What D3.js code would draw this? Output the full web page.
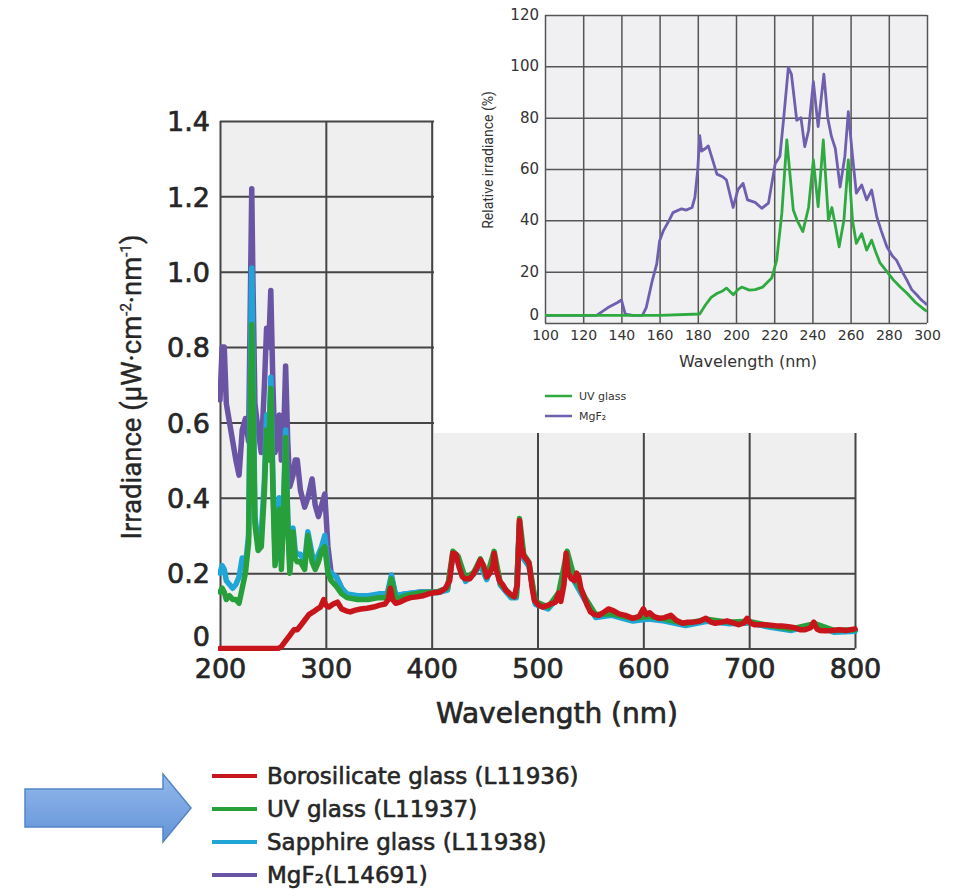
<!DOCTYPE html>
<html><head><meta charset="utf-8">
<script src="https://cdn.jsdelivr.net/npm/d3@7"></script>
<style>body{margin:0;background:#fff;} svg{display:block;}</style>
</head><body><svg id="c" width="961" height="889"></svg>
<script>
// ---------------- DATA ----------------
const mainXTicks = [200, 300, 400, 500, 600, 700, 800];
const mainYTicks = [0, 0.2, 0.4, 0.6, 0.8, 1.0, 1.2, 1.4];
const mainYTickLabels = ["0", "0.2", "0.4", "0.6", "0.8", "1.0", "1.2", "1.4"];

// Borosilicate glass (red)
const boroNm = [
  200, 230, 255, 258, 262, 266, 270, 273, 276, 280, 284, 288, 292, 295, 298, 300,
  303, 307, 311, 315, 319, 323, 328, 333, 339, 345, 351, 356, 359, 361, 363, 366, 370, 375, 380, 386, 392, 397,
  402, 408, 413, 417, 420, 423, 426, 429, 432, 436, 440, 443, 446, 449, 452, 455, 458, 459, 461, 464, 467, 470, 474, 478,
  481, 483, 485, 487, 490, 492, 495, 497, 501, 505, 510, 514, 517, 520, 522, 525, 527, 529, 532, 535, 537, 539, 541, 544, 547,
  550, 554, 558, 563, 567, 572, 577, 583, 590, 596, 600, 603, 606, 610, 615, 620, 626, 631, 637, 642, 647, 653, 659, 664, 668,
  674, 679, 685, 690, 695, 698, 701, 705, 710, 715, 720, 726, 731, 737, 743, 748, 753, 758, 761, 764, 767, 772, 778, 785, 792, 800];
const boroVal = [
  0, 0, 0, 0.005, 0.02, 0.035, 0.05, 0.05, 0.06, 0.075, 0.09, 0.097, 0.105, 0.11, 0.13, 0.115,
  0.11, 0.118, 0.123, 0.105, 0.10, 0.097, 0.102, 0.105, 0.107, 0.11, 0.115, 0.118, 0.13, 0.16, 0.13, 0.12, 0.123, 0.13, 0.135, 0.137, 0.14, 0.145,
  0.148, 0.15, 0.16, 0.18, 0.253, 0.25, 0.215, 0.19, 0.185, 0.185, 0.20, 0.215, 0.235, 0.22, 0.19, 0.20, 0.22, 0.253, 0.21, 0.18, 0.17, 0.155, 0.145, 0.137,
  0.17, 0.34, 0.27, 0.245, 0.235, 0.226, 0.16, 0.128, 0.115, 0.11, 0.115, 0.12, 0.123, 0.147, 0.125, 0.17, 0.253, 0.20, 0.185, 0.18, 0.20, 0.19, 0.16, 0.137, 0.115,
  0.097, 0.09, 0.088, 0.097, 0.105, 0.10, 0.092, 0.088, 0.08, 0.085, 0.105, 0.09, 0.095, 0.085, 0.08, 0.082, 0.088, 0.075, 0.067, 0.07, 0.07, 0.072, 0.08, 0.07, 0.067,
  0.07, 0.073, 0.068, 0.063, 0.068, 0.08, 0.068, 0.063, 0.063, 0.063, 0.062, 0.06, 0.06, 0.058, 0.055, 0.05, 0.05, 0.055, 0.07, 0.052, 0.048, 0.047, 0.048, 0.05, 0.048, 0.052];

// shared wavelength grid for UV glass, sapphire, MgF2
const uvNm = [
  200, 202, 204, 206, 209, 212, 215, 218, 221, 224, 227,
  229, 230, 231, 233, 236, 239,
  242, 244, 246, 248, 250, 252, 254, 256, 258, 260, 262, 264, 266,
  269, 271, 273, 276, 280, 283, 287, 290, 293, 296, 299,
  302, 305, 310, 315, 320, 330, 340, 350, 358, 362, 366, 375, 390,
  405, 415, 420, 425, 432, 440, 446, 452, 459, 465, 475, 480, 483, 487, 492, 498,
  510, 520, 528, 535, 545, 555, 570, 590, 605, 620, 640, 660, 680, 700, 720, 740, 762, 780, 800];
const mgf2Val = [
  0.66, 0.80, 0.80, 0.65, 0.60, 0.55, 0.50, 0.46, 0.58, 0.61, 0.55,
  1.00, 1.22, 1.00, 0.65, 0.58, 0.52,
  0.70, 0.85, 0.80, 0.95, 0.70, 0.52, 0.55, 0.62, 0.50, 0.55, 0.75, 0.55, 0.43,
  0.46, 0.50, 0.50, 0.42, 0.375, 0.40, 0.45, 0.38, 0.35, 0.38, 0.41,
  0.27, 0.20, 0.19, 0.16, 0.14, 0.135, 0.135, 0.14, 0.14, 0.19, 0.14, 0.145, 0.15,
  0.15, 0.16, 0.245, 0.235, 0.18, 0.20, 0.225, 0.185, 0.245, 0.17, 0.14, 0.14, 0.33, 0.24, 0.22, 0.12,
  0.11, 0.14, 0.245, 0.18, 0.13, 0.085, 0.09, 0.075, 0.08, 0.075, 0.063, 0.075, 0.068, 0.07, 0.058, 0.05, 0.065, 0.045, 0.048];
const sapphireVal = [
  0.20, 0.22, 0.21, 0.18, 0.17, 0.16, 0.17, 0.19, 0.24, 0.22, 0.30,
  0.80, 1.01, 0.80, 0.35, 0.28, 0.30,
  0.45, 0.62, 0.55, 0.72, 0.45, 0.25, 0.30, 0.40, 0.25, 0.38, 0.58, 0.35, 0.22,
  0.32, 0.26, 0.25, 0.25, 0.23, 0.31, 0.25, 0.22, 0.25, 0.27, 0.30,
  0.21, 0.20, 0.19, 0.16, 0.145, 0.14, 0.14, 0.145, 0.145, 0.195, 0.14, 0.145, 0.15,
  0.148, 0.155, 0.245, 0.235, 0.178, 0.198, 0.222, 0.183, 0.243, 0.168, 0.135, 0.135, 0.33, 0.237, 0.218, 0.117,
  0.105, 0.137, 0.243, 0.177, 0.127, 0.082, 0.088, 0.073, 0.078, 0.073, 0.061, 0.072, 0.066, 0.068, 0.056, 0.048, 0.062, 0.043, 0.046];
const uvGlassVal = [
  0.15, 0.16, 0.15, 0.13, 0.14, 0.13, 0.13, 0.12, 0.16, 0.20, 0.28,
  0.70, 0.86, 0.70, 0.33, 0.26, 0.27,
  0.42, 0.58, 0.50, 0.69, 0.42, 0.22, 0.28, 0.37, 0.21, 0.35, 0.56, 0.33, 0.20,
  0.31, 0.24, 0.23, 0.23, 0.21, 0.30, 0.23, 0.21, 0.23, 0.26, 0.27,
  0.20, 0.18, 0.165, 0.145, 0.135, 0.13, 0.13, 0.135, 0.135, 0.185, 0.13, 0.14, 0.148,
  0.15, 0.16, 0.258, 0.245, 0.185, 0.203, 0.238, 0.19, 0.258, 0.172, 0.14, 0.14, 0.345, 0.25, 0.228, 0.125,
  0.11, 0.148, 0.258, 0.185, 0.135, 0.09, 0.092, 0.08, 0.085, 0.078, 0.066, 0.078, 0.07, 0.072, 0.06, 0.052, 0.066, 0.048, 0.05];

const legendLabels = ["Borosilicate glass (L11936)", "UV glass (L11937)", "Sapphire glass (L11938)", "MgF\u2082(L14691)"];
const legendColors = ["#c8141b", "#27a03c", "#20a6d6", "#6a55a5"];

// Inset: relative irradiance (%)
const insetXTicks = [100, 120, 140, 160, 180, 200, 220, 240, 260, 280, 300];
const insetYTicks = [0, 20, 40, 60, 80, 100, 120];
const insetUvNm = [100, 120, 140, 160, 181, 184, 187, 190, 193, 195, 198.6, 201, 203, 207, 210, 214, 218.7, 221.3, 224, 226.6, 228, 230, 232, 235, 238, 240.5, 243, 245.7, 248.4, 250.2, 252, 254, 256.5, 258.8, 261, 263, 265.8, 268.4, 271, 273, 275.4, 279, 282.4, 286, 289.4, 294, 299, 300];
const insetUvVal = [3, 3, 3, 3, 3.5, 7, 10, 11.5, 12.5, 13.6, 11, 13, 14, 12.8, 13, 14, 17.5, 24.5, 42.8, 71.3, 60, 44, 40, 35.6, 45, 63.5, 45.3, 71.3, 40, 45, 38, 29.7, 40, 63.5, 40, 31, 34.8, 28.4, 32.3, 28, 23.4, 20, 16.8, 14, 11.7, 8, 5, 4.5];
const insetMgNm = [100, 120, 127, 133, 138, 140, 142, 146, 151, 153, 156, 158.5, 160, 162, 165, 167, 171.5, 174, 177, 178.5, 180, 181, 182, 184, 185.5, 188, 190, 193, 195, 198.5, 201, 203.7, 206, 210, 213.5, 217, 220.5, 223, 225, 227.4, 229, 231.8, 234, 236, 238, 240.5, 243, 246, 248, 250, 252, 254.5, 257, 258.8, 261, 263, 265.8, 268.4, 271, 273.7, 276, 279, 282, 284, 287, 289.4, 292, 294.6, 297, 299, 300];
const insetMgVal = [3, 3, 3, 6, 8, 9, 3.5, 3, 3, 6, 16, 23, 32, 36, 40, 43, 44.5, 44, 45, 49, 60, 73, 67, 68, 69, 63, 58, 57, 55.7, 45, 52, 54.4, 48, 47, 44.7, 46.7, 62, 65, 80, 99.5, 97, 79, 80, 68.7, 75, 94, 76.5, 97, 80, 72.6, 68, 53, 65, 82.3, 65, 50.6, 53.8, 48, 51.8, 41.4, 36, 29.7, 26, 24.5, 20, 16.8, 13, 11, 9, 7.8, 7];
const insetLegendLabels = ["UV glass", "MgF\u2082"];
const insetLegendColors = ["#2eaa40", "#6f5fae"];

// ---------------- DRAW ----------------
const svg = d3.select("#c");
const FONT = "'DejaVu Sans', Verdana, sans-serif";
const GRID = "#454545";
const TXT = "#262626";

function boldish(sel, w) { sel.attr("stroke", TXT).attr("stroke-width", w).attr("paint-order", "stroke"); }

// main chart
const x = d3.scaleLinear().domain([200, 800]).range([220, 855]);
const y = d3.scaleLinear().domain([0, 1.4]).range([648.5, 121]);

const main = svg.append("g");
main.append("rect").attr("x", 220).attr("y", 121).attr("width", 635).attr("height", 527.5).attr("fill", "#efefef");

const xAxisG = main.append("g").attr("transform", "translate(0,648.5)")
  .call(d3.axisBottom(x).tickValues(mainXTicks).tickSize(-527.5).tickFormat(d3.format("d")).tickPadding(13));
const yAxisG = main.append("g").attr("transform", "translate(220,0)")
  .call(d3.axisLeft(y).tickValues(mainYTicks).tickSize(-635).tickFormat((d, i) => mainYTickLabels[i]).tickPadding(10));
[xAxisG, yAxisG].forEach(g => {
  g.select(".domain").remove();
  g.selectAll(".tick line").attr("stroke", GRID).attr("stroke-width", 2);
  const t = g.selectAll(".tick text").attr("fill", TXT).style("font-family", FONT).style("font-size", "27px");
  boldish(t, 0.7);
});
xAxisG.selectAll(".tick text").attr("dy", "0.6em");
yAxisG.selectAll(".tick text").attr("dy", (d) => d === 0 ? "-0.12em" : "0.36em");

const clip = svg.append("defs").append("clipPath").attr("id", "mclip");
clip.append("rect").attr("x", 218).attr("y", 110).attr("width", 640).attr("height", 541);

const mline = d3.line().x(d => x(d[0])).y(d => y(d[1]));
const seriesMain = [
  {nm: uvNm, v: mgf2Val, c: legendColors[3]},
  {nm: uvNm, v: sapphireVal, c: legendColors[2]},
  {nm: uvNm, v: uvGlassVal, c: legendColors[1]},
  {nm: boroNm, v: boroVal, c: legendColors[0]}
];
const lines = main.append("g").attr("clip-path", "url(#mclip)");
seriesMain.forEach(s => {
  lines.append("path").datum(s.nm.map((n, i) => [n, s.v[i]]))
    .attr("d", mline).attr("fill", "none").attr("stroke", s.c)
    .attr("stroke-width", 5.5).attr("stroke-linejoin", "round").attr("stroke-linecap", "round");
});

// axis titles
const xt = main.append("text").attr("x", 557).attr("y", 723).attr("text-anchor", "middle")
  .attr("fill", TXT).style("font-family", FONT).style("font-size", "28px").text("Wavelength (nm)");
boldish(xt, 0.7);
const yt = main.append("text").attr("transform", "translate(141,387) rotate(-90)").attr("text-anchor", "middle")
  .attr("fill", TXT).style("font-family", "Roboto, sans-serif").style("font-size", "27.5px");
yt.append("tspan").text("Irradiance (\u03bcW\u00b7cm");
yt.append("tspan").attr("dy", -10).style("font-size", "15px").text("-2");
yt.append("tspan").attr("dy", 10).text("\u00b7nm");
yt.append("tspan").attr("dy", -10).style("font-size", "15px").text("-1");
yt.append("tspan").attr("dy", 10).text(")");
boldish(yt, 0.4);

// main legend
const leg = svg.append("g");
legendLabels.forEach((l, i) => {
  const yy = 776 + i * 33;
  leg.append("line").attr("x1", 212).attr("x2", 257).attr("y1", yy).attr("y2", yy)
    .attr("stroke", legendColors[i]).attr("stroke-width", 4);
  const t = leg.append("text").attr("x", 267).attr("y", yy).attr("dy", "0.36em").attr("fill", TXT)
    .style("font-family", FONT).style("font-size", "23px").text(l);
  boldish(t, 0.6);
});

// arrow
const defs = svg.select("defs");
const grad = defs.append("linearGradient").attr("id", "ag").attr("x1", 0).attr("y1", 0).attr("x2", 0).attr("y2", 1);
grad.append("stop").attr("offset", "0%").attr("stop-color", "#93b9ec");
grad.append("stop").attr("offset", "100%").attr("stop-color", "#6393d8");
svg.append("path")
  .attr("d", "M25,789 L163,789 L163,774 L191,808 L163,842 L163,827 L25,827 Z")
  .attr("fill", "url(#ag)").attr("stroke", "#5584c6").attr("stroke-width", 1.5);

// inset background (covers main chart corner)
svg.append("rect").attr("x", 434).attr("y", 0).attr("width", 527).attr("height", 433).attr("fill", "#ffffff");

const ix = d3.scaleLinear().domain([100, 300]).range([545, 927]);
const iy = d3.scaleLinear().domain([0, 120]).range([323, 15]);
const inset = svg.append("g");
inset.append("rect").attr("x", 545).attr("y", 15).attr("width", 382).attr("height", 308).attr("fill", "#f0f0f2");
const ixG = inset.append("g").attr("transform", "translate(0,323)")
  .call(d3.axisBottom(ix).tickValues(insetXTicks).tickSize(-308).tickFormat(d3.format("d")).tickPadding(6));
const iyG = inset.append("g").attr("transform", "translate(545,0)")
  .call(d3.axisLeft(iy).tickValues(insetYTicks).tickSize(-382).tickFormat(d3.format("d")).tickPadding(6));
[ixG, iyG].forEach(g => {
  g.select(".domain").remove();
  g.selectAll(".tick line").attr("stroke", "#555").attr("stroke-width", 1.5);
  g.selectAll(".tick text").attr("fill", "#333").style("font-family", FONT);
});
ixG.selectAll(".tick text").attr("dy", "0.75em").style("font-size", "14px");
iyG.selectAll(".tick text").style("font-size", "15px").attr("dy", d => d === 0 ? "-0.25em" : "0.3em");

const iline = d3.line().x(d => ix(d[0])).y(d => iy(d[1]));
inset.append("path").datum(insetMgNm.map((n, i) => [n, insetMgVal[i]]))
  .attr("d", iline).attr("fill", "none").attr("stroke", insetLegendColors[1]).attr("stroke-width", 2.8).attr("stroke-linejoin", "round");
inset.append("path").datum(insetUvNm.map((n, i) => [n, insetUvVal[i]]))
  .attr("d", iline).attr("fill", "none").attr("stroke", insetLegendColors[0]).attr("stroke-width", 2.8).attr("stroke-linejoin", "round");

inset.append("text").attr("x", 748).attr("y", 367).attr("text-anchor", "middle").attr("fill", "#333")
  .style("font-family", FONT).style("font-size", "16px").text("Wavelength (nm)");
inset.append("text").attr("transform", "translate(493,160) rotate(-90)").attr("text-anchor", "middle").attr("fill", "#333")
  .style("font-family", "Roboto, sans-serif").style("font-size", "14px").text("Relative irradiance (%)");

insetLegendLabels.forEach((l, i) => {
  const yy = 396 + i * 20;
  inset.append("line").attr("x1", 545).attr("x2", 572).attr("y1", yy).attr("y2", yy)
    .attr("stroke", insetLegendColors[i]).attr("stroke-width", 2.5);
  inset.append("text").attr("x", 579).attr("y", yy).attr("dy", "0.35em").attr("fill", "#333")
    .style("font-family", FONT).style("font-size", "11px").text(l);
});
</script></body></html>
